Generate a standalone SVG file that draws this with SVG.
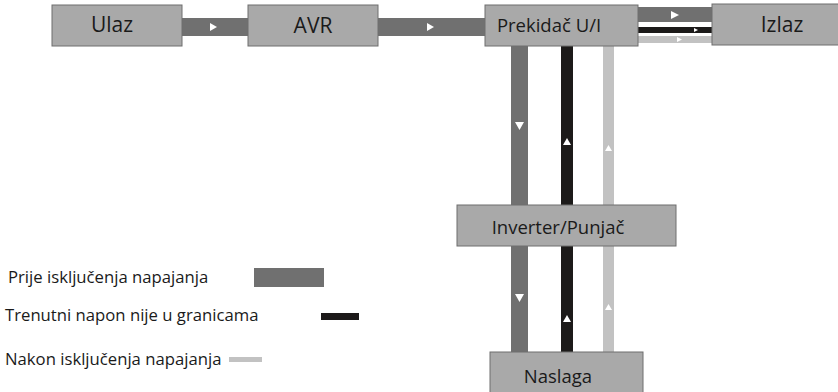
<svg xmlns="http://www.w3.org/2000/svg" width="838" height="392" viewBox="0 0 838 392">
<style>
.box{fill:#a9a9a9;stroke:#6e6e6e;stroke-width:1}
.lbl{font-family:"Open Sans","DejaVu Sans",sans-serif;font-size:18.5px;fill:#1a1a1a;text-anchor:middle}
.big{font-size:21px}
.leg{font-family:"Open Sans","DejaVu Sans",sans-serif;font-size:16.7px;fill:#1a1a1a}
.d{fill:#707070}
.k{fill:#1c1a19}
.l{fill:#c2c2c2}
.ar{fill:#ffffff}
</style>
<rect width="838" height="392" fill="#ffffff"/>
<g id="connectors">
  <rect class="d" x="182" y="18" width="66" height="18"/>
  <polygon class="ar" points="210,23 217,27 210,31"/>
  <rect class="d" x="378" y="18" width="107" height="18"/>
  <polygon class="ar" points="427,23 434,27 427,31"/>
  <rect class="d" x="638" y="7" width="74" height="15"/>
  <polygon class="ar" points="671,11 679,15 671,19"/>
  <rect class="k" x="638" y="27" width="74" height="6"/>
  <polygon class="ar" points="694,28 698,30 694,32"/>
  <rect class="l" x="638" y="36" width="74" height="7"/>
  <polygon class="ar" points="677,37 682,39.5 677,42"/>
  <rect class="d" x="511" y="46" width="17" height="159"/>
  <polygon class="ar" points="515,122 524,122 519.5,130"/>
  <rect class="k" x="561" y="46" width="12" height="159"/>
  <polygon class="ar" points="563,145 571,145 567,138"/>
  <rect class="l" x="603" y="46" width="11" height="159"/>
  <polygon class="ar" points="605,151 612,151 608.5,145"/>
  <rect class="d" x="511" y="246" width="17" height="106"/>
  <polygon class="ar" points="515,294 524,294 519.5,302"/>
  <rect class="k" x="561" y="246" width="12" height="106"/>
  <polygon class="ar" points="563,322 571,322 567,315"/>
  <rect class="l" x="603" y="246" width="11" height="106"/>
  <polygon class="ar" points="605,310 612,310 608.5,304"/>
</g>
<g id="ulaz"><rect class="box" x="52" y="5" width="130" height="41"/><text class="lbl big" x="112" y="32">Ulaz</text></g>
<g id="avr"><rect class="box" x="248" y="5" width="130" height="41"/><text class="lbl big" x="313" y="33">AVR</text></g>
<g id="prekidac"><rect class="box" x="485" y="5" width="153" height="41"/><text class="lbl" x="549" y="32">Prekidač U/I</text></g>
<g id="izlaz"><rect class="box" x="712" y="4" width="130" height="41"/><text class="lbl big" x="782" y="32">Izlaz</text></g>
<g id="inverter"><rect class="box" x="457" y="205" width="219" height="41"/><text class="lbl" x="558" y="234">Inverter/Punjač</text></g>
<g id="naslaga"><rect class="box" x="490" y="352" width="153" height="45"/><text class="lbl" x="558" y="383">Naslaga</text></g>
<g id="legend">
  <text class="leg" x="8" y="283">Prije isključenja napajanja</text>
  <rect class="d" x="254" y="268" width="70" height="19"/>
  <text class="leg" x="5" y="321">Trenutni napon nije u granicama</text>
  <rect class="k" x="321" y="313" width="38" height="7"/>
  <text class="leg" x="5" y="365">Nakon isključenja napajanja</text>
  <rect class="l" x="229" y="357" width="33" height="5"/>
</g>
</svg>
